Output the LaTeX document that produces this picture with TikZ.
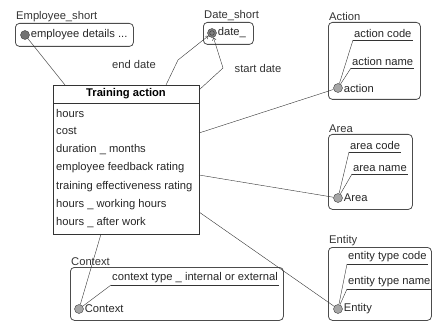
\documentclass[tikz,border=0pt]{standalone}
\usepackage{fontspec}
\setmainfont{Liberation Sans}
\usetikzlibrary{arrows.meta}
\tikzset{
  box/.style={draw=black!70,rounded corners=4pt,thick,anchor=north west,inner sep=0pt},
  lbl/.style={anchor=south west,inner sep=1pt,text=black!80},
  dot/.style={circle,draw=black!75,fill=black!35,minimum size=9pt,inner sep=0pt},
  attr/.style={anchor=south west,inner xsep=1pt,inner ysep=2pt,text=black!85},
  txt/.style={anchor=west,inner sep=1pt,text=black!85},
  link/.style={draw=black!80}
}
\begin{document}
\begin{tikzpicture}[x=1pt,y=-1pt,font=\fontsize{11.2}{13}\selectfont]
\useasboundingbox (0,0) rectangle (433,323);

% Training action
\node[draw=black!80,thick,anchor=north west,minimum width=146pt,minimum height=149pt,inner sep=0pt] (train) at (53,85) {};
\draw[black!80] (53,103) -- (199,103);
\node[font=\fontsize{11.2}{13}\selectfont\bfseries] (title) at (126,94) {Training action};
\foreach \t [count=\i] in {hours,cost,duration \_ months,employee feedback rating,training effectiveness rating,hours \_ working hours,hours \_ after work}
  \node[txt] (r\i) at (55,{94.7+18.3*\i}) {\t};

% Employee_short
\node[box,minimum width=118pt,minimum height=23pt] (emp) at (15,23) {};
\node[lbl] at (emp.north west) {Employee\_short};
\node[dot,fill=black!55] (empc) at (25,35) {};
\node[txt] at (empc.east) {employee details ...};

% Date_short
\node[box,minimum width=50pt,minimum height=22pt] (date) at (203,22) {};
\node[lbl] at (date.north west) {Date\_short};
\node[dot,fill=black!50,path picture={\draw[black!80] (path picture bounding box.center) circle (2.3pt);}] (datec) at (212,33) {};
\node[txt] at (datec.east) {date\_};

% Action
\node[box,minimum width=92pt,minimum height=77pt] (act) at (328,22) {};
\node[lbl] at (act.north west) {Action};
\node[dot] (actc) at (338,88) {};
\node[txt] at (actc.east) {action};
\node[attr] (act1) at (353,40) {action code};
\node[attr] (act2) at (351,68) {action name};

% Area
\node[box,minimum width=84pt,minimum height=75pt] (area) at (328,134) {};
\node[lbl] at (area.north west) {Area};
\node[dot] (areac) at (338,198) {};
\node[txt] at (areac.east) {Area};
\node[attr] (area1) at (349,152) {area code};
\node[attr] (area2) at (352,174) {area name};

% Entity
\node[box,minimum width=103pt,minimum height=73pt] (ent) at (328,247) {};
\node[lbl] at (ent.north west) {Entity};
\node[dot] (entc) at (338,309) {};
\node[txt] at (entc.east) {Entity};
\node[attr] (ent1) at (347,264) {entity type code};
\node[attr] (ent2) at (347,289) {entity type name};

% Context
\node[box,minimum width=213pt,minimum height=53pt] (ctx) at (70,267) {};
\node[lbl] at (ctx.north west) {Context};
\node[dot] (ctxc) at (79,309) {};
\node[txt] at (ctxc.east) {Context};
\node[attr] (ctx1) at (111,285) {context type \_ internal or external};

% underlines and attribute links
\foreach \a/\c in {act1/actc,act2/actc,area1/areac,area2/areac,ent1/entc,ent2/entc,ctx1/ctxc} {
  \draw[link] (\a.south west) -- (\a.south east);
  \draw[link] (\c) -- (\a.south west);
}

% connectors
\coordinate (tn1) at (65,85);
\coordinate (tn2) at (166,85);
\coordinate (te0) at (199,90);
\coordinate (te1) at (199,133);
\coordinate (te2) at (199,175);
\coordinate (te3) at (199,212);
\coordinate (tb) at (101,234);
\coordinate (b1) at (178,60);
\coordinate (b2) at (223,68);
\draw[link] (empc) -- (tn1);
\draw[link,-{To[length=3pt,width=4pt]}] (tn2) -- (b1) -- (datec);
\draw[link,-{To[length=3pt,width=4pt]}] (te0) -- (b2) -- (datec);
\node[text=black!80] (endlbl) at (134,64) {end date};
\node[text=black!80] (startlbl) at (258,68) {start date};
\draw[link] (te1) -- (actc);
\draw[link] (te2) -- (areac);
\draw[link] (te3) -- (entc);
\draw[link] (tb) -- (ctxc);
\end{tikzpicture}
\end{document}
